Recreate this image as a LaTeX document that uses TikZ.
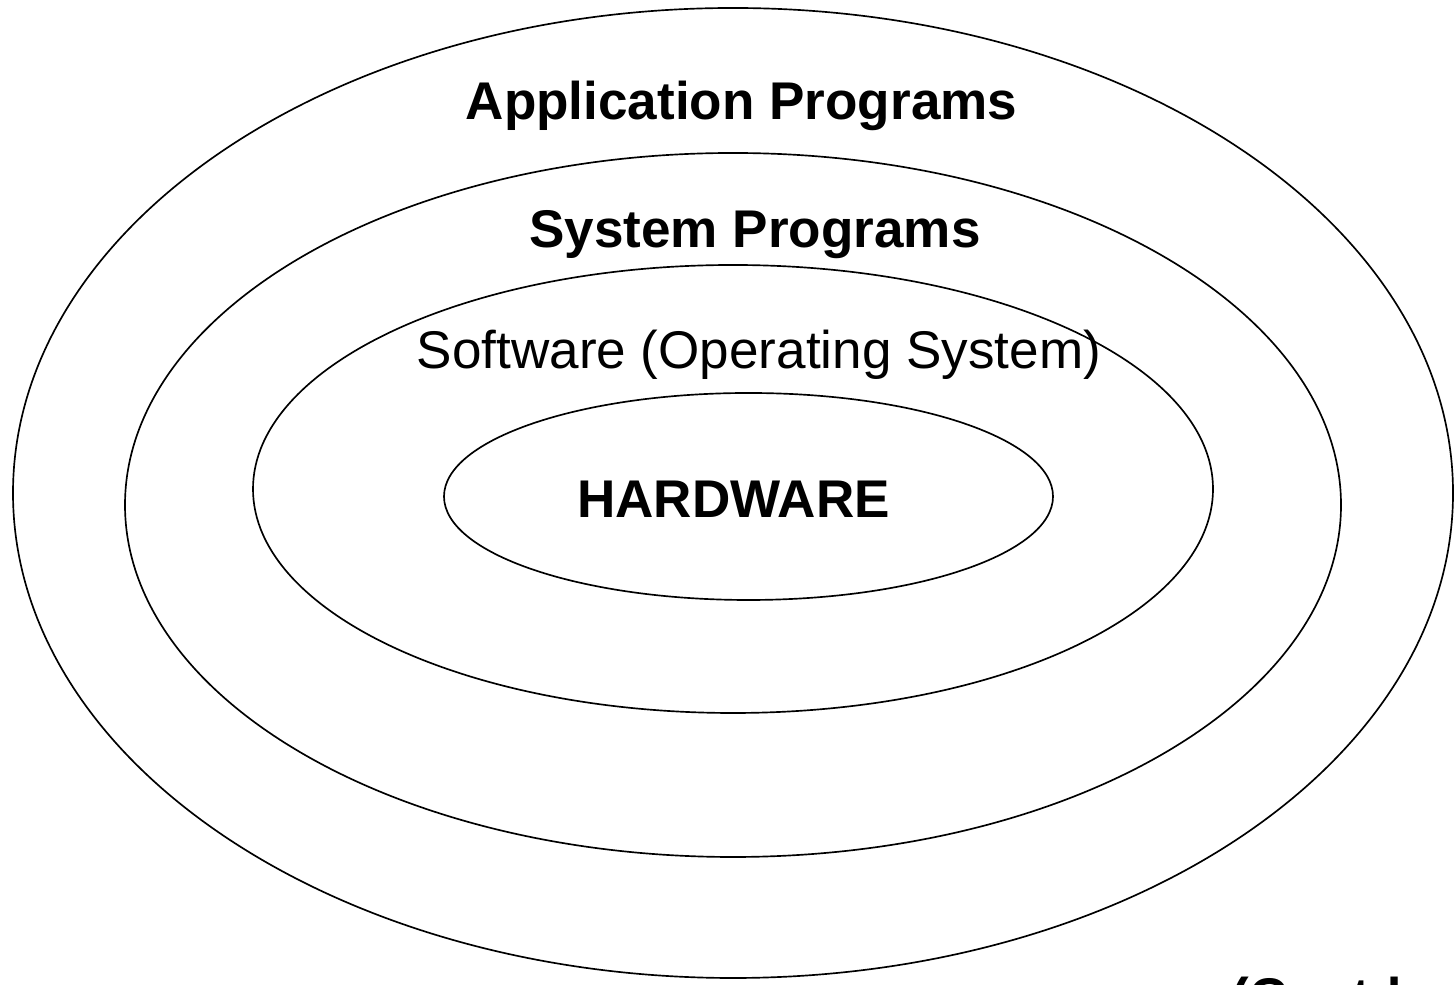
\documentclass[tikz,border=0pt]{standalone}
\usepackage{fontspec}
\setmainfont{Liberation Sans}
\usetikzlibrary{shapes.geometric}

\begin{document}
\begin{tikzpicture}
\tikzstyle{ring}=[ellipse,draw,line width=0.95pt,inner sep=0pt]
\tikzstyle{layer}=[inner sep=0pt,anchor=base,font=\fontsize{30.2}{36}\selectfont]
\tikzstyle{title}=[layer,font=\fontsize{30.2}{36}\selectfont\bfseries]

\useasboundingbox (0,0) rectangle (29.08,19.70) ;

\node[ring,minimum width=28.8cm,minimum height=19.4cm] (apps) at (14.66,9.84) {} ;
\node[ring,minimum width=24.32cm,minimum height=14.08cm] (sys) at (14.66,9.60) {} ;
\node[ring,minimum width=19.2cm,minimum height=8.96cm] (os) at (14.66,9.92) {} ;
\node[ring,minimum width=12.18cm,minimum height=4.14cm] (hw) at (14.97,9.77) {} ;

\node[title] (appstext) at (14.83,17.30) {Application Programs} ;
\node[title] (systext) at (15.10,14.74) {System Programs} ;
\node[layer] (ostext) at (15.18,12.32) {Software (Operating System)} ;
\node[title] (hwtext) at (14.67,9.34) {HARDWARE} ;
\node[title,anchor=base west] (cont) at (24.62,-0.62) {(Contd.} ;

\end{tikzpicture}
\end{document}
